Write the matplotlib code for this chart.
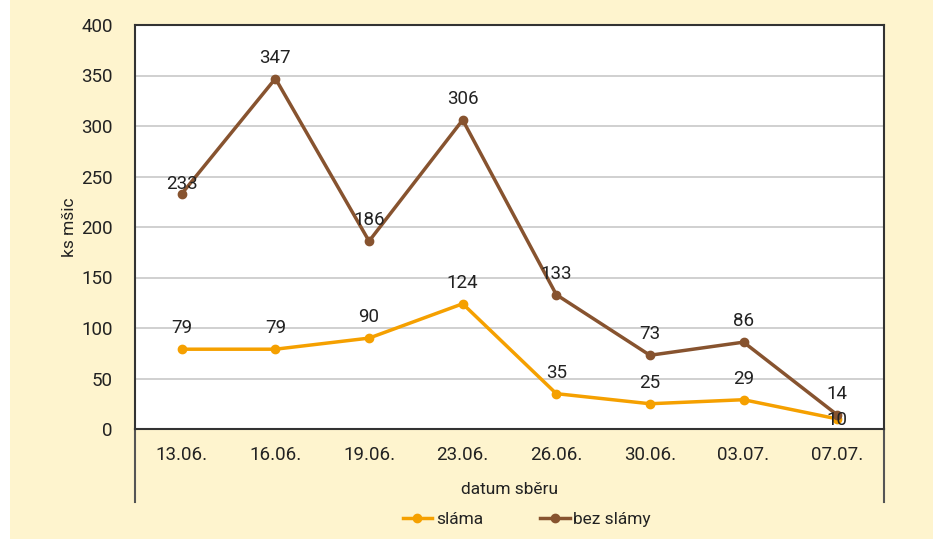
import matplotlib.pyplot as plt
from matplotlib.patches import Rectangle

plt.rcParams['font.family'] = ['Roboto', 'DejaVu Sans']

# počty mšic podle data sběru
dates = ["13.06.", "16.06.", "19.06.", "23.06.", "26.06.", "30.06.", "03.07.", "07.07."]
slama = [79, 79, 90, 124, 35, 25, 29, 10]
bez_slamy = [233, 347, 186, 306, 133, 73, 86, 14]

c_slama = "#F5A000"
c_bez = "#87532F"
bg = "#FEF4CE"

fig = plt.figure(figsize=(9.33, 5.39), dpi=100)
fig.patch.set_facecolor("white")
fig.patches.append(Rectangle((10 / 933, 0), 1.1, 1.1 - 9 / 539, transform=fig.transFigure,
                             facecolor=bg, edgecolor="none", zorder=-10))

ax = fig.add_axes([135 / 933, 110 / 539, 749 / 933, 404 / 539])
ax.set_facecolor("white")
x = list(range(len(dates)))

ax.plot(x, slama, color=c_slama, lw=2.5, marker="o", ms=6, label="sláma", zorder=3)
ax.plot(x, bez_slamy, color=c_bez, lw=2.5, marker="o", ms=6, label="bez slámy", zorder=3)

# popisky hodnot (u 233 a 10 posunuté jako v originálu)
for i, v in enumerate(slama):
    dy = -1 if i == 7 else 15
    ax.annotate(str(v), (i, v), xytext=(0, dy), textcoords="offset points",
                ha="center", va="center", fontsize=13.5, color="#222222", zorder=4)
for i, v in enumerate(bez_slamy):
    dy = 7 if i == 0 else 15
    ax.annotate(str(v), (i, v), xytext=(0, dy), textcoords="offset points",
                ha="center", va="center", fontsize=13.5, color="#222222", zorder=4)

ax.set_xlim(-0.5, len(dates) - 0.5)
ax.set_ylim(0, 400)
ax.set_yticks(range(0, 401, 50))
ax.set_xticks(x)
ax.set_xticklabels(dates)
ax.tick_params(axis="both", length=0, labelsize=13.5, colors="#222222")
ax.tick_params(axis="x", pad=12)
ax.tick_params(axis="y", pad=16)
ax.grid(axis="y", color="#C8C8C8", lw=1.2)
ax.set_axisbelow(True)
for s in ax.spines.values():
    s.set_color("#333333")
    s.set_linewidth(1.5)

# svislé čáry kategorie pod osou
for xx in (0, 1):
    ax.plot([xx, xx], [0, -73 / 404], transform=ax.transAxes, color="#555555",
            lw=1.5, clip_on=False)

ax.set_ylabel("ks mšic", fontsize=12.5, labelpad=3, color="#222222")
fig.text(510 / 933, 1 - 490 / 539, "datum sběru", ha="center", va="center",
         fontsize=12.5, color="#222222")

ax.legend(loc="center", bbox_to_anchor=(0.523, -0.225), ncol=2, frameon=False,
          fontsize=12.5, handlelength=1.7, handletextpad=0.2, columnspacing=3.3,
          labelcolor="#222222")

fig.savefig("out.png", dpi=100)
